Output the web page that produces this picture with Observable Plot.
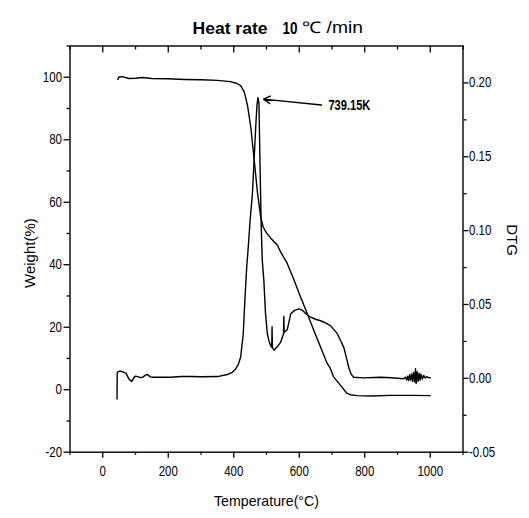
<!DOCTYPE html>
<html><head><meta charset="utf-8">
<script src="https://cdn.jsdelivr.net/npm/d3@7"></script>
<script src="https://cdn.jsdelivr.net/npm/@observablehq/plot@0.6"></script>
<style>
body{margin:0;background:#fff}
svg{display:block}
</style></head><body><div id="chart"></div>
<script>
// TG curve (weight %) vs temperature (°C)
const tgTemp = [46, 50, 60, 80, 100, 120, 150, 200, 250, 300, 350, 390, 410, 421, 432, 442, 452, 462, 472, 482, 490, 500, 513, 533, 543, 563, 584, 604, 624, 644, 665, 685, 695, 705, 726, 746, 756, 777, 820, 878, 940, 1000];
const tgWeight = [99.3, 100.1, 100.2, 99.6, 99.7, 99.9, 99.6, 99.5, 99.3, 99.2, 99.0, 98.6, 98.0, 97.3, 95.3, 91, 84, 74, 63.5, 55.5, 52, 50.2, 48.5, 46.3, 44.1, 40.5, 35.1, 29.7, 24.5, 19.1, 13.7, 8.5, 6.8, 4.1, 1.4, -1.2, -1.6, -1.9, -2.0, -1.8, -1.8, -1.9];
// DTG curve vs temperature (°C)
const dtgTemp = [43.6, 44.2, 50, 56, 65, 71, 80, 88, 95, 100, 107, 115, 122, 130, 137, 145, 152, 180, 208, 240, 269, 300, 350, 381, 395, 406, 414, 421, 429, 434, 439.5, 443.5, 450, 457, 467, 471, 474, 477, 480, 484, 487, 492, 497, 502.6, 508, 513, 516, 517, 518, 523, 533, 543, 552, 553, 554, 563.5, 574, 586, 599, 610, 619, 635, 650, 665, 680, 695, 706, 716, 726, 736, 744, 751, 758, 766, 797, 848, 880, 919, 925, 928, 931, 934, 937, 940, 943, 946, 949, 952, 955, 957, 960, 963, 966, 969, 972, 976, 980, 985, 990, 995, 1000];
const dtgValue = [-0.014, 0.004, 0.0048, 0.0048, 0.004, 0.0035, -0.0005, -0.0022, 0.0005, 0.0015, 0.0012, 0.0005, 0.0007, 0.0022, 0.0026, 0.001, 0.0007, 0.0008, 0.0007, 0.0012, 0.0012, 0.0011, 0.0012, 0.0026, 0.004, 0.0064, 0.0095, 0.0143, 0.030, 0.053, 0.075, 0.0865, 0.107, 0.125, 0.170, 0.185, 0.190, 0.186, 0.147, 0.102, 0.080, 0.066, 0.044, 0.030, 0.025, 0.022, 0.021, 0.035, 0.021, 0.019, 0.0215, 0.0244, 0.030, 0.042, 0.031, 0.033, 0.0437, 0.046, 0.047, 0.046, 0.044, 0.0414, 0.040, 0.039, 0.0375, 0.0357, 0.033, 0.0303, 0.0256, 0.021, 0.014, 0.0075, 0.003, 0.0007, 0.0003, 0.0007, 0.0004, -0.0003, 0.0008, -0.0012, 0.0015, -0.0015, 0.0025, -0.0012, 0.003, -0.002, 0.004, -0.0025, 0.0065, -0.0035, 0.0045, -0.002, 0.0035, -0.0012, 0.0028, -0.0005, 0.002, 0.0002, 0.0012, 0.0004, 0.0005];

// axes
const xDomain = [-100, 1100];
const yDomain = [-20, 110];
const dtgDomain = [-0.05, 0.225];
const xTicks = [0, 200, 400, 600, 800, 1000];
const xMinor = [-100, 100, 300, 500, 700, 900, 1100];
const yTicks = [-20, 0, 20, 40, 60, 80, 100];
const yMinor = [-10, 10, 30, 50, 70, 90, 110];
const dtgTicks = [-0.05, 0.00, 0.05, 0.10, 0.15, 0.20];
const dtgMinor = [-0.025, 0.025, 0.075, 0.125, 0.175];

// texts
const titleParts = ["Heat rate", "10", "\u2103 /min"];
const xLabel = "Temperature(\u00B0C)";
const yLabel = "Weight(%)";
const y2Label = "DTG";
const peakLabel = "739.15K";
const arrowData = [{T1: 668, W1: 91.1, T2: 491, W2: 93.0}];
const peakLabelPos = [{T: 689, W: 91.1}];

const tg = tgTemp.map((t, i) => ({T: t, W: tgWeight[i]}));
const dtg = dtgTemp.map((t, i) => ({T: t, v: dtgValue[i]}));

const toLeft = v => yDomain[0] + (v - dtgDomain[0]) / (dtgDomain[1] - dtgDomain[0]) * (yDomain[1] - yDomain[0]);
const fromLeft = y => dtgDomain[0] + (y - yDomain[0]) / (yDomain[1] - yDomain[0]) * (dtgDomain[1] - dtgDomain[0]);
const fmt2 = v => (Math.round(v * 100) / 100 + 0).toFixed(2);

const W = 529, H = 518;
const mL = 69.5, mR = 66.5, mT = 45.5, mB = 66.3;
const frameH = H - mT - mB;
const sansFont = "'Liberation Sans', Arial, sans-serif";
const heavyFont = "'Liberation Sans', Arial, sans-serif";

const chart = Plot.plot({
  width: W, height: H,
  marginLeft: mL, marginRight: mR, marginTop: mT, marginBottom: mB,
  x: {domain: xDomain},
  y: {domain: yDomain},
  style: {background: "#fff", color: "#000"},
  marks: [
    Plot.frame({stroke: "#000", strokeWidth: 1.4}),
    Plot.axisX({anchor: "bottom", ticks: xTicks, tickSize: 6, tickPadding: 8, tickFormat: d => String(d), label: null, fontSize: 14, fontFamily: sansFont, strokeWidth: 1.3, className: "cond"}),
    Plot.axisX({anchor: "bottom", ticks: xMinor, tickSize: 3, tickFormat: () => "", label: null, strokeWidth: 1.3}),
    Plot.tickX(xTicks, {x: d => d, insetBottom: frameH - 7, stroke: "#000", strokeWidth: 1.3}),
    Plot.tickX(xMinor, {x: d => d, insetBottom: frameH - 4, stroke: "#000", strokeWidth: 1.3}),
    Plot.axisY({anchor: "left", ticks: yTicks, tickSize: 6, tickPadding: 2, tickFormat: d => String(d), label: null, fontSize: 14, fontFamily: sansFont, strokeWidth: 1.3, className: "cond"}),
    Plot.axisY({anchor: "left", ticks: yMinor, tickSize: 3, tickFormat: () => "", label: null, strokeWidth: 1.3}),
    Plot.axisY({anchor: "right", ticks: dtgTicks.map(toLeft), tickSize: 5, tickPadding: 1, tickFormat: d => fmt2(fromLeft(d)), label: null, fontSize: 14, fontFamily: sansFont, strokeWidth: 1.3, className: "cond"}),
    Plot.axisY({anchor: "right", ticks: dtgMinor.map(toLeft), tickSize: 3, tickFormat: () => "", label: null, strokeWidth: 1.3}),
    Plot.line(tg, {x: "T", y: "W", stroke: "#000", strokeWidth: 1.4}),
    Plot.line(dtg, {x: "T", y: d => toLeft(d.v), stroke: "#000", strokeWidth: 1.4}),
    Plot.arrow(arrowData, {x1: "T1", y1: "W1", x2: "T2", y2: "W2", stroke: "#000", strokeWidth: 1.4, headLength: 8}),
    Plot.text(peakLabelPos, {x: "T", y: "W", text: () => peakLabel, textAnchor: "start", fontSize: 14, fontWeight: 900, fontFamily: heavyFont, fill: "#000", className: "peak"}),
    Plot.text([yLabel], {frameAnchor: "left", text: d => d, textAnchor: "middle", rotate: -90, dx: -39.5, dy: 4, fontSize: 15, fontFamily: sansFont, fill: "#000"}),
    Plot.text([y2Label], {frameAnchor: "right", text: d => d, textAnchor: "middle", rotate: 90, dx: 48.5, dy: -9, fontSize: 15, fontFamily: sansFont, fill: "#000"}),
    Plot.text([xLabel], {frameAnchor: "bottom", text: d => d, dy: 54, fontSize: 15, fontFamily: sansFont, fill: "#000", className: "xlab"}),
    Plot.text([titleParts[0]], {frameAnchor: "top-left", text: d => d, textAnchor: "start", dx: 122.5, dy: -24, fontSize: 17, fontWeight: 900, fontFamily: heavyFont, fill: "#000", className: "t1"}),
    Plot.text([titleParts[1]], {frameAnchor: "top-left", text: d => d, textAnchor: "start", dx: 212.5, dy: -24, fontSize: 17, fontWeight: 900, fontFamily: heavyFont, fill: "#000", className: "t2"}),
    Plot.text([titleParts[2]], {frameAnchor: "top-left", text: d => d, textAnchor: "start", dx: 232, dy: -24, fontSize: 16, fontFamily: sansFont, fill: "#000", className: "t3"})
  ]
});
document.getElementById("chart").appendChild(chart);

// condensed look for tick labels and heavy texts
const root = d3.select(chart);
root.selectAll(".cond text").each(function() {
  const w = this.getComputedTextLength();
  if (w > 0) d3.select(this).attr("textLength", w * 0.82).attr("lengthAdjust", "spacingAndGlyphs");
});
const fitText = (sel, len) => root.selectAll(sel).attr("textLength", len).attr("lengthAdjust", "spacingAndGlyphs");
fitText(".peak text", 42);
fitText(".t1 text", 75);
fitText(".t2 text", 15);
fitText(".t3 text", 61);
fitText(".xlab text", 105);
</script>
</body></html>
